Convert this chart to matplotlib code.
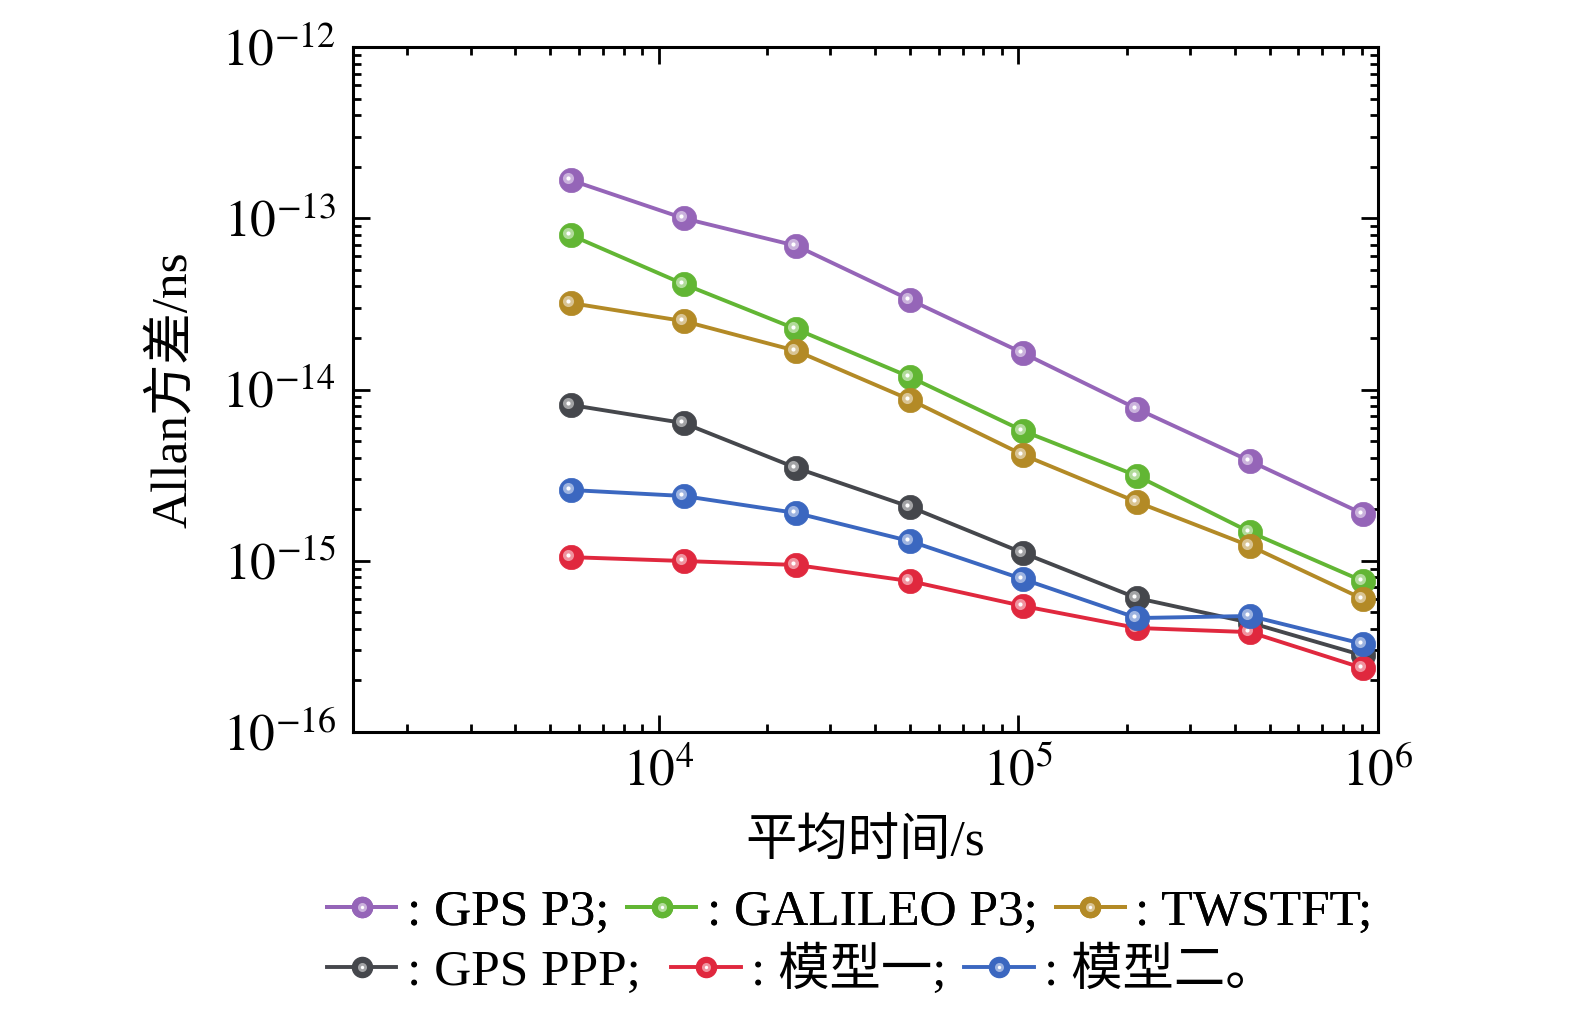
import matplotlib
matplotlib.use('Agg')
import matplotlib.pyplot as plt
import matplotlib.colors as mcolors
from matplotlib.transforms import offset_copy
from matplotlib.lines import Line2D
from matplotlib.legend_handler import HandlerTuple

plt.rcParams['font.family'] = ['Liberation Serif', 'Noto Sans CJK SC', 'DejaVu Sans']
plt.rcParams['mathtext.fontset'] = 'stix'

# averaging time (s)
tau = [5694, 11730, 24170, 50120, 103200, 214100, 441000, 908600]

# Allan deviation of each series
gps_p3 = [1.67e-13, 1.00e-13, 6.9e-14, 3.33e-14, 1.63e-14, 7.7e-15, 3.82e-15, 1.88e-15]
galileo_p3 = [7.98e-14, 4.13e-14, 2.25e-14, 1.18e-14, 5.73e-15, 3.13e-15, 1.47e-15, 7.6e-16]
twstft = [3.2e-14, 2.51e-14, 1.68e-14, 8.7e-15, 4.15e-15, 2.2e-15, 1.22e-15, 5.98e-16]
gps_ppp = [8.13e-15, 6.37e-15, 3.48e-15, 2.06e-15, 1.11e-15, 6.05e-16, 4.35e-16, 2.8e-16]
model1 = [1.05e-15, 9.97e-16, 9.45e-16, 7.6e-16, 5.44e-16, 4.05e-16, 3.83e-16, 2.36e-16]
model2 = [2.59e-15, 2.39e-15, 1.9e-15, 1.30e-15, 7.8e-16, 4.63e-16, 4.76e-16, 3.27e-16]

labels = [': GPS P3;', ': GALILEO P3;', ': TWSTFT;', ': GPS PPP;', ': 模型一;', ': 模型二。']
colors = ['#9565b8', '#62b634', '#b38a26', '#45474c', '#e0283e', '#3b67c0']
series = [gps_p3, galileo_p3, twstft, gps_ppp, model1, model2]


def light(c, f):
    r, g, b = mcolors.to_rgb(c)
    return (r + (1 - r) * f, g + (1 - g) * f, b + (1 - b) * f)


fig = plt.figure(figsize=(15.75, 10.09), dpi=100)
ax = fig.add_axes([0.2241, 0.2745, 0.6508, 0.6789])

# small offset so the highlight sits up-left on each ball
hl = offset_copy(ax.transData, fig=fig, x=-3, y=2, units='dots')
handles = []
for i in range(len(series)):
    c = colors[i]
    ax.plot(tau, series[i], '-', color=c, lw=2.8, zorder=2 + i)
    ax.plot(tau, series[i], 'o', ms=17.5, mfc=c, mec=c, mew=0.5, zorder=2 + i)
    ax.plot(tau, series[i], 'o', ms=8, mfc=light(c, 0.5), mec='none', transform=hl, zorder=2 + i)
    ax.plot(tau, series[i], 'o', ms=3, mfc='white', mec='none', transform=hl, zorder=2 + i)
    h1 = Line2D([], [], color=c, lw=2.8, marker='o', ms=14.5, mfc=c, mec=c)
    h2 = Line2D([], [], ls='none', marker='o', ms=6.5, mfc=light(c, 0.5), mec='none')
    h3 = Line2D([], [], ls='none', marker='o', ms=2.4, mfc='white', mec='none')
    handles.append((h1, h2, h3))

ax.set_xscale('log')
ax.set_yscale('log')
ax.set_xlim(1413, 1e6)
ax.set_ylim(1e-16, 1e-12)
ax.set_xticks([1e4, 1e5, 1e6])
ax.set_xticklabels(['$10^{4}$', '$10^{5}$', '$10^{6}$'])
ax.set_yticks([1e-16, 1e-15, 1e-14, 1e-13, 1e-12])
ax.set_yticklabels(['$10^{-16}$', '$10^{-15}$', '$10^{-14}$', '$10^{-13}$', '$10^{-12}$'])

for s in ax.spines.values():
    s.set_linewidth(2.2)
ax.tick_params(which='both', direction='in', top=True, right=True, width=2, labelsize=37)
ax.tick_params(which='major', length=12, pad=12)
ax.tick_params(which='minor', length=6)

ax.set_xlabel('平均时间/s', fontsize=37, labelpad=16)
ax.set_ylabel('Allan方差/ns', fontsize=37, labelpad=18)

hm = {tuple: HandlerTuple(ndivide=1, pad=0)}
lab1 = labels[:3]
lab2 = [labels[3] + ' ', labels[4], labels[5]]
kw = dict(handler_map=hm, loc='center left', ncol=3, frameon=False, fontsize=37,
          borderpad=0, handlelength=1.35, handletextpad=0.2, columnspacing=0.35,
          borderaxespad=0)
leg1 = fig.legend(handles[:3], lab1, bbox_to_anchor=(0.2076, 0.0961), **kw)
fig.add_artist(leg1)
leg2 = fig.legend(handles[3:], lab2, bbox_to_anchor=(0.2076, 0.0387), **kw)

fig.savefig('out.png', dpi=100)
